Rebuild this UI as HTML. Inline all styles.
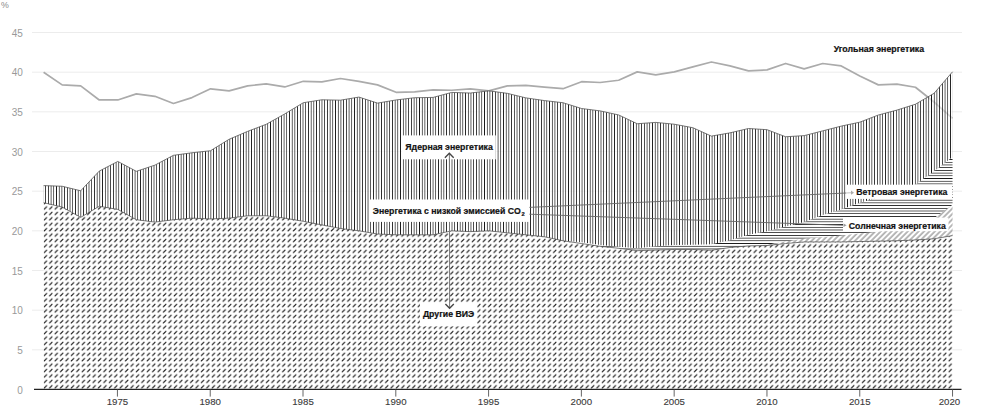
<!DOCTYPE html>
<html><head><meta charset="utf-8">
<style>
html,body{margin:0;padding:0;background:#fff;}
body{width:1004px;height:407px;overflow:hidden;}
svg{display:block;}
text{font-family:"Liberation Sans",sans-serif;}
.g{stroke:#ececec;stroke-width:1;}
.yl{font-size:10px;fill:#999;text-anchor:end;}
.xl{font-size:9.7px;fill:#3a3a3a;stroke:#3a3a3a;stroke-width:0.1px;text-anchor:middle;}
.tk{stroke:#555;stroke-width:0.9;}
.lb{font-size:8.6px;font-weight:bold;fill:#111;stroke:#111;stroke-width:0.2px;}
</style></head><body>
<svg width="1004" height="407" viewBox="0 0 1004 407">
<defs>
<pattern id="pdash" patternUnits="userSpaceOnUse" width="5.418" height="5.418" x="-0.294" y="-0.228">
<line x1="1.1" y1="3.6" x2="3.6" y2="1.1" stroke="#1e1e1e" stroke-width="1.04" stroke-linecap="round"/>
</pattern>
<pattern id="pdiag" patternUnits="userSpaceOnUse" width="3.831" height="3.831" patternTransform="rotate(45)">
<line x1="1" y1="0" x2="1" y2="3.831" stroke="#444" stroke-width="0.75"/>
</pattern>
<filter id="fc" x="0" y="0" width="1004" height="407" filterUnits="userSpaceOnUse"><feComponentTransfer><feFuncA type="linear" slope="1.7" intercept="-0.28"/></feComponentTransfer></filter>
<clipPath id="cD"><path d="M43.6,185.62L62.15,186.26L80.7,190.78L99.25,171.1L117.8,161.43L136.35,171.34L154.9,165.15L173.45,155.32L192,152.78L210.55,150.72L229.1,139.29L247.65,131.36L266.2,124.3L284.75,113.91L303.3,102.72L321.85,99.79L340.4,100.18L358.95,97.09L377.5,103.12L396.05,99.95L414.6,97.72L433.15,97.41L451.7,92.41L470.25,93.04L488.8,90.82L507.35,93.36L525.9,97.88L544.45,100.58L563,102.72L581.55,108.51L600.1,110.89L618.65,114.94L637.2,123.74L655.75,122.4L674.3,124.22L692.85,127.71L711.4,136.12L729.95,132.87L748.5,128.5L767.05,129.69L785.6,136.75L804.15,135.64L822.7,130.88L841.25,126.12L859.8,122.16L878.35,115.02L896.9,110.1L915.45,104.23L934,93.36L952.55,71.78L952.55,157.06L934,171.34L915.45,184.43L896.9,191.57L878.35,197.52L859.8,202.68L841.25,209.42L822.7,214.97L804.15,222.11L785.6,226.48L767.05,231.24L748.5,234.81L729.95,240.36L711.4,244.33L692.85,244.72L674.3,245.12L655.75,246.15L637.2,248.29L618.65,246.71L600.1,245.12L581.55,242.34L563,240.76L544.45,236.79L525.9,234.81L507.35,232.82L488.8,230.84L470.25,231.63L451.7,230.84L433.15,234.81L414.6,234.81L396.05,234.81L377.5,234.01L358.95,230.84L340.4,228.46L321.85,224.89L303.3,221.32L284.75,218.15L266.2,215.77L247.65,215.77L229.1,218.15L210.55,218.94L192,218.15L173.45,219.73L154.9,222.11L136.35,219.73L117.8,209.42L99.25,206.25L80.7,217.35L62.15,207.04L43.6,202.68Z"/></clipPath>
<clipPath id="cC"><path d="M43.6,202.68L62.15,207.04L80.7,217.35L99.25,206.25L117.8,209.42L136.35,219.73L154.9,222.11L173.45,219.73L192,218.15L210.55,218.94L229.1,218.15L247.65,215.77L266.2,215.77L284.75,218.15L303.3,221.32L321.85,224.89L340.4,228.46L358.95,230.84L377.5,234.01L396.05,234.81L414.6,234.81L433.15,234.81L451.7,230.84L470.25,231.63L488.8,230.84L507.35,232.82L525.9,234.81L544.45,236.79L563,240.76L581.55,242.34L600.1,245.12L618.65,246.71L637.2,248.29L655.75,246.15L674.3,245.12L692.85,244.72L711.4,244.33L729.95,240.36L748.5,234.81L767.05,231.24L785.6,226.48L804.15,222.11L822.7,214.97L841.25,209.42L859.8,202.68L878.35,197.52L896.9,191.57L915.45,184.43L934,171.34L952.55,157.06L952.55,204.66L934,218.15L915.45,224.1L896.9,228.06L878.35,231.63L859.8,233.62L841.25,235.6L822.7,237.19L804.15,238.77L785.6,241.55L767.05,244.72L748.5,245.91L729.95,247.5L711.4,250.28L692.85,249.48L674.3,249.48L655.75,250.12L637.2,250.67L618.65,248.29L600.1,246.31L581.55,243.53L563,240.76L544.45,236.79L525.9,234.81L507.35,232.82L488.8,230.84L470.25,231.63L451.7,230.84L433.15,234.81L414.6,234.81L396.05,234.81L377.5,234.01L358.95,230.84L340.4,228.46L321.85,224.89L303.3,221.32L284.75,218.15L266.2,215.77L247.65,215.77L229.1,218.15L210.55,218.94L192,218.15L173.45,219.73L154.9,222.11L136.35,219.73L117.8,209.42L99.25,206.25L80.7,217.35L62.15,207.04L43.6,202.68Z"/></clipPath>
</defs>
<rect width="1004" height="407" fill="#fff"/>
<text x="1" y="8.2" style="font-size:8.8px;fill:#8a8a8a">%</text>
<line x1="32" y1="349.83" x2="962" y2="349.83" class="g"/><line x1="32" y1="310.17" x2="962" y2="310.17" class="g"/><line x1="32" y1="270.5" x2="962" y2="270.5" class="g"/><line x1="32" y1="230.84" x2="962" y2="230.84" class="g"/><line x1="32" y1="191.18" x2="962" y2="191.18" class="g"/><line x1="32" y1="151.51" x2="962" y2="151.51" class="g"/><line x1="32" y1="111.85" x2="962" y2="111.85" class="g"/><line x1="32" y1="72.18" x2="962" y2="72.18" class="g"/><line x1="32" y1="32.51" x2="962" y2="32.51" class="g"/><text x="22.8" y="393.7" class="yl">0</text><text x="22.8" y="354.03" class="yl">5</text><text x="22.8" y="314.37" class="yl">10</text><text x="22.8" y="274.7" class="yl">15</text><text x="22.8" y="235.04" class="yl">20</text><text x="22.8" y="195.38" class="yl">25</text><text x="22.8" y="155.71" class="yl">30</text><text x="22.8" y="116.05" class="yl">35</text><text x="22.8" y="76.38" class="yl">40</text><text x="22.8" y="36.71" class="yl">45</text>
<path d="M43.6,72.18L62.15,84.87L80.7,85.9L99.25,99.95L117.8,99.95L136.35,93.92L154.9,96.3L173.45,103.44L192,97.57L210.55,88.84L229.1,90.9L247.65,85.9L266.2,83.92L284.75,86.94L303.3,81.3L321.85,81.94L340.4,78.53L358.95,81.3L377.5,84.87L396.05,92.33L414.6,91.93L433.15,89.79L451.7,90.27L470.25,88.92L488.8,90.9L507.35,85.9L525.9,85.43L544.45,87.09L563,88.68L581.55,81.7L600.1,82.49L618.65,80.27L637.2,71.86L655.75,74.88L674.3,71.86L692.85,66.86L711.4,62.03L729.95,65.91L748.5,70.91L767.05,69.88L785.6,63.45L804.15,68.93L822.7,63.53L841.25,65.91L859.8,75.91L878.35,84.87L896.9,84.08L915.45,87.25L934,102.01L952.55,118.43" fill="none" stroke="#ababab" stroke-width="1.7" stroke-linejoin="round"/>
<path d="M43.6,185.62L62.15,186.26L80.7,190.78L99.25,171.1L117.8,161.43L136.35,171.34L154.9,165.15L173.45,155.32L192,152.78L210.55,150.72L229.1,139.29L247.65,131.36L266.2,124.3L284.75,113.91L303.3,102.72L321.85,99.79L340.4,100.18L358.95,97.09L377.5,103.12L396.05,99.95L414.6,97.72L433.15,97.41L451.7,92.41L470.25,93.04L488.8,90.82L507.35,93.36L525.9,97.88L544.45,100.58L563,102.72L581.55,108.51L600.1,110.89L618.65,114.94L637.2,123.74L655.75,122.4L674.3,124.22L692.85,127.71L711.4,136.12L729.95,132.87L748.5,128.5L767.05,129.69L785.6,136.75L804.15,135.64L822.7,130.88L841.25,126.12L859.8,122.16L878.35,115.02L896.9,110.1L915.45,104.23L934,93.36L952.55,71.78L952.55,389.5L934,389.5L915.45,389.5L896.9,389.5L878.35,389.5L859.8,389.5L841.25,389.5L822.7,389.5L804.15,389.5L785.6,389.5L767.05,389.5L748.5,389.5L729.95,389.5L711.4,389.5L692.85,389.5L674.3,389.5L655.75,389.5L637.2,389.5L618.65,389.5L600.1,389.5L581.55,389.5L563,389.5L544.45,389.5L525.9,389.5L507.35,389.5L488.8,389.5L470.25,389.5L451.7,389.5L433.15,389.5L414.6,389.5L396.05,389.5L377.5,389.5L358.95,389.5L340.4,389.5L321.85,389.5L303.3,389.5L284.75,389.5L266.2,389.5L247.65,389.5L229.1,389.5L210.55,389.5L192,389.5L173.45,389.5L154.9,389.5L136.35,389.5L117.8,389.5L99.25,389.5L80.7,389.5L62.15,389.5L43.6,389.5Z" fill="#fff" fill-opacity="0.6"/>
<path d="M43.6,202.68L62.15,207.04L80.7,217.35L99.25,206.25L117.8,209.42L136.35,219.73L154.9,222.11L173.45,219.73L192,218.15L210.55,218.94L229.1,218.15L247.65,215.77L266.2,215.77L284.75,218.15L303.3,221.32L321.85,224.89L340.4,228.46L358.95,230.84L377.5,234.01L396.05,234.81L414.6,234.81L433.15,234.81L451.7,230.84L470.25,231.63L488.8,230.84L507.35,232.82L525.9,234.81L544.45,236.79L563,240.76L581.55,243.53L600.1,246.31L618.65,248.29L637.2,250.67L655.75,250.12L674.3,249.48L692.85,249.48L711.4,250.28L729.95,247.5L748.5,245.91L767.05,245.52L785.6,243.53L804.15,241.95L822.7,241.95L841.25,241.95L859.8,241.55L878.35,241.15L896.9,240.76L915.45,239.96L934,238.77L952.55,235.6L952.55,389.5L934,389.5L915.45,389.5L896.9,389.5L878.35,389.5L859.8,389.5L841.25,389.5L822.7,389.5L804.15,389.5L785.6,389.5L767.05,389.5L748.5,389.5L729.95,389.5L711.4,389.5L692.85,389.5L674.3,389.5L655.75,389.5L637.2,389.5L618.65,389.5L600.1,389.5L581.55,389.5L563,389.5L544.45,389.5L525.9,389.5L507.35,389.5L488.8,389.5L470.25,389.5L451.7,389.5L433.15,389.5L414.6,389.5L396.05,389.5L377.5,389.5L358.95,389.5L340.4,389.5L321.85,389.5L303.3,389.5L284.75,389.5L266.2,389.5L247.65,389.5L229.1,389.5L210.55,389.5L192,389.5L173.45,389.5L154.9,389.5L136.35,389.5L117.8,389.5L99.25,389.5L80.7,389.5L62.15,389.5L43.6,389.5Z" fill="url(#pdash)"/>
<path d="M43.6,202.68L62.15,207.04L80.7,217.35L99.25,206.25L117.8,209.42L136.35,219.73L154.9,222.11L173.45,219.73L192,218.15L210.55,218.94L229.1,218.15L247.65,215.77L266.2,215.77L284.75,218.15L303.3,221.32L321.85,224.89L340.4,228.46L358.95,230.84L377.5,234.01L396.05,234.81L414.6,234.81L433.15,234.81L451.7,230.84L470.25,231.63L488.8,230.84L507.35,232.82L525.9,234.81L544.45,236.79L563,240.76L581.55,243.53L600.1,246.31L618.65,248.29L637.2,250.67L655.75,250.12L674.3,249.48L692.85,249.48L711.4,250.28L729.95,247.5L748.5,245.91L767.05,244.72L785.6,241.55L804.15,238.77L822.7,237.19L841.25,235.6L859.8,233.62L878.35,231.63L896.9,228.06L915.45,224.1L934,218.15L952.55,204.66L952.55,235.6L934,238.77L915.45,239.96L896.9,240.76L878.35,241.15L859.8,241.55L841.25,241.95L822.7,241.95L804.15,241.95L785.6,243.53L767.05,245.52L748.5,245.91L729.95,247.5L711.4,250.28L692.85,249.48L674.3,249.48L655.75,250.12L637.2,250.67L618.65,248.29L600.1,246.31L581.55,243.53L563,240.76L544.45,236.79L525.9,234.81L507.35,232.82L488.8,230.84L470.25,231.63L451.7,230.84L433.15,234.81L414.6,234.81L396.05,234.81L377.5,234.01L358.95,230.84L340.4,228.46L321.85,224.89L303.3,221.32L284.75,218.15L266.2,215.77L247.65,215.77L229.1,218.15L210.55,218.94L192,218.15L173.45,219.73L154.9,222.11L136.35,219.73L117.8,209.42L99.25,206.25L80.7,217.35L62.15,207.04L43.6,202.68Z" fill="url(#pdiag)"/>
<path d="M600,137.87H956M600,140.57H956M600,143.28H956M600,145.99H956M600,148.7H956M600,151.41H956M600,154.12H956M600,156.83H956M600,159.54H956M600,162.25H956M600,164.96H956M600,167.66H956M600,170.37H956M600,173.08H956M600,175.79H956M600,178.5H956M600,181.21H956M600,183.92H956M600,186.63H956M600,189.34H956M600,192.05H956M600,194.75H956M600,197.46H956M600,200.17H956M600,202.88H956M600,205.59H956M600,208.3H956M600,211.01H956M600,213.72H956M600,216.43H956M600,219.14H956M600,221.85H956M600,224.55H956M600,227.26H956M600,229.97H956M600,232.68H956M600,235.39H956M600,238.1H956M600,240.81H956M600,243.52H956M600,246.23H956M600,248.94H956M600,251.64H956M600,254.35H956M600,257.06H956M600,259.77H956" stroke="#000" stroke-width="0.7" clip-path="url(#cC)" filter="url(#fc)"/>
<path d="M42.94,60V260M45.65,60V260M48.36,60V260M51.07,60V260M53.78,60V260M56.49,60V260M59.2,60V260M61.91,60V260M64.62,60V260M67.33,60V260M70.03,60V260M72.74,60V260M75.45,60V260M78.16,60V260M80.87,60V260M83.58,60V260M86.29,60V260M89,60V260M91.71,60V260M94.42,60V260M97.12,60V260M99.83,60V260M102.54,60V260M105.25,60V260M107.96,60V260M110.67,60V260M113.38,60V260M116.09,60V260M118.8,60V260M121.51,60V260M124.21,60V260M126.92,60V260M129.63,60V260M132.34,60V260M135.05,60V260M137.76,60V260M140.47,60V260M143.18,60V260M145.89,60V260M148.6,60V260M151.3,60V260M154.01,60V260M156.72,60V260M159.43,60V260M162.14,60V260M164.85,60V260M167.56,60V260M170.27,60V260M172.98,60V260M175.69,60V260M178.39,60V260M181.1,60V260M183.81,60V260M186.52,60V260M189.23,60V260M191.94,60V260M194.65,60V260M197.36,60V260M200.07,60V260M202.78,60V260M205.48,60V260M208.19,60V260M210.9,60V260M213.61,60V260M216.32,60V260M219.03,60V260M221.74,60V260M224.45,60V260M227.16,60V260M229.87,60V260M232.57,60V260M235.28,60V260M237.99,60V260M240.7,60V260M243.41,60V260M246.12,60V260M248.83,60V260M251.54,60V260M254.25,60V260M256.96,60V260M259.66,60V260M262.37,60V260M265.08,60V260M267.79,60V260M270.5,60V260M273.21,60V260M275.92,60V260M278.63,60V260M281.34,60V260M284.05,60V260M286.75,60V260M289.46,60V260M292.17,60V260M294.88,60V260M297.59,60V260M300.3,60V260M303.01,60V260M305.72,60V260M308.43,60V260M311.14,60V260M313.85,60V260M316.55,60V260M319.26,60V260M321.97,60V260M324.68,60V260M327.39,60V260M330.1,60V260M332.81,60V260M335.52,60V260M338.23,60V260M340.94,60V260M343.64,60V260M346.35,60V260M349.06,60V260M351.77,60V260M354.48,60V260M357.19,60V260M359.9,60V260M362.61,60V260M365.32,60V260M368.03,60V260M370.73,60V260M373.44,60V260M376.15,60V260M378.86,60V260M381.57,60V260M384.28,60V260M386.99,60V260M389.7,60V260M392.41,60V260M395.12,60V260M397.82,60V260M400.53,60V260M403.24,60V260M405.95,60V260M408.66,60V260M411.37,60V260M414.08,60V260M416.79,60V260M419.5,60V260M422.21,60V260M424.91,60V260M427.62,60V260M430.33,60V260M433.04,60V260M435.75,60V260M438.46,60V260M441.17,60V260M443.88,60V260M446.59,60V260M449.3,60V260M452,60V260M454.71,60V260M457.42,60V260M460.13,60V260M462.84,60V260M465.55,60V260M468.26,60V260M470.97,60V260M473.68,60V260M476.39,60V260M479.09,60V260M481.8,60V260M484.51,60V260M487.22,60V260M489.93,60V260M492.64,60V260M495.35,60V260M498.06,60V260M500.77,60V260M503.48,60V260M506.18,60V260M508.89,60V260M511.6,60V260M514.31,60V260M517.02,60V260M519.73,60V260M522.44,60V260M525.15,60V260M527.86,60V260M530.56,60V260M533.27,60V260M535.98,60V260M538.69,60V260M541.4,60V260M544.11,60V260M546.82,60V260M549.53,60V260M552.24,60V260M554.95,60V260M557.65,60V260M560.36,60V260M563.07,60V260M565.78,60V260M568.49,60V260M571.2,60V260M573.91,60V260M576.62,60V260M579.33,60V260M582.04,60V260M584.74,60V260M587.45,60V260M590.16,60V260M592.87,60V260M595.58,60V260M598.29,60V260M601,60V260M603.71,60V260M606.42,60V260M609.13,60V260M611.83,60V260M614.54,60V260M617.25,60V260M619.96,60V260M622.67,60V260M625.38,60V260M628.09,60V260M630.8,60V260M633.51,60V260M636.22,60V260M638.92,60V260M641.63,60V260M644.34,60V260M647.05,60V260M649.76,60V260M652.47,60V260M655.18,60V260M657.89,60V260M660.6,60V260M663.31,60V260M666.01,60V260M668.72,60V260M671.43,60V260M674.14,60V260M676.85,60V260M679.56,60V260M682.27,60V260M684.98,60V260M687.69,60V260M690.4,60V260M693.1,60V260M695.81,60V260M698.52,60V260M701.23,60V260M703.94,60V260M706.65,60V260M709.36,60V260M712.07,60V260M714.78,60V260M717.49,60V260M720.19,60V260M722.9,60V260M725.61,60V260M728.32,60V260M731.03,60V260M733.74,60V260M736.45,60V260M739.16,60V260M741.87,60V260M744.58,60V260M747.28,60V260M749.99,60V260M752.7,60V260M755.41,60V260M758.12,60V260M760.83,60V260M763.54,60V260M766.25,60V260M768.96,60V260M771.67,60V260M774.37,60V260M777.08,60V260M779.79,60V260M782.5,60V260M785.21,60V260M787.92,60V260M790.63,60V260M793.34,60V260M796.05,60V260M798.76,60V260M801.46,60V260M804.17,60V260M806.88,60V260M809.59,60V260M812.3,60V260M815.01,60V260M817.72,60V260M820.43,60V260M823.14,60V260M825.85,60V260M828.55,60V260M831.26,60V260M833.97,60V260M836.68,60V260M839.39,60V260M842.1,60V260M844.81,60V260M847.52,60V260M850.23,60V260M852.94,60V260M855.64,60V260M858.35,60V260M861.06,60V260M863.77,60V260M866.48,60V260M869.19,60V260M871.9,60V260M874.61,60V260M877.32,60V260M880.03,60V260M882.73,60V260M885.44,60V260M888.15,60V260M890.86,60V260M893.57,60V260M896.28,60V260M898.99,60V260M901.7,60V260M904.41,60V260M907.12,60V260M909.82,60V260M912.53,60V260M915.24,60V260M917.95,60V260M920.66,60V260M923.37,60V260M926.08,60V260M928.79,60V260M931.5,60V260M934.21,60V260M936.91,60V260M939.62,60V260M942.33,60V260M945.04,60V260M947.75,60V260M950.46,60V260M953.17,60V260M955.88,60V260" stroke="#000" stroke-width="0.7" clip-path="url(#cD)" filter="url(#fc)"/>
<path d="M43.6,185.62L62.15,186.26L80.7,190.78L99.25,171.1L117.8,161.43L136.35,171.34L154.9,165.15L173.45,155.32L192,152.78L210.55,150.72L229.1,139.29L247.65,131.36L266.2,124.3L284.75,113.91L303.3,102.72L321.85,99.79L340.4,100.18L358.95,97.09L377.5,103.12L396.05,99.95L414.6,97.72L433.15,97.41L451.7,92.41L470.25,93.04L488.8,90.82L507.35,93.36L525.9,97.88L544.45,100.58L563,102.72L581.55,108.51L600.1,110.89L618.65,114.94L637.2,123.74L655.75,122.4L674.3,124.22L692.85,127.71L711.4,136.12L729.95,132.87L748.5,128.5L767.05,129.69L785.6,136.75L804.15,135.64L822.7,130.88L841.25,126.12L859.8,122.16L878.35,115.02L896.9,110.1L915.45,104.23L934,93.36L952.55,71.78" fill="none" stroke="#555" stroke-width="0.8"/>
<path d="M43.6,202.68L62.15,207.04L80.7,217.35L99.25,206.25L117.8,209.42L136.35,219.73L154.9,222.11L173.45,219.73L192,218.15L210.55,218.94L229.1,218.15L247.65,215.77L266.2,215.77L284.75,218.15L303.3,221.32L321.85,224.89L340.4,228.46L358.95,230.84L377.5,234.01L396.05,234.81L414.6,234.81L433.15,234.81L451.7,230.84L470.25,231.63L488.8,230.84L507.35,232.82L525.9,234.81L544.45,236.79L563,240.76L581.55,243.53L600.1,246.31L618.65,248.29L637.2,250.67L655.75,250.12L674.3,249.48L692.85,249.48L711.4,250.28L729.95,247.5L748.5,245.91L767.05,245.52L785.6,243.53L804.15,241.95L822.7,241.95L841.25,241.95L859.8,241.55L878.35,241.15L896.9,240.76L915.45,239.96L934,238.77L952.55,235.6" fill="none" stroke="#444" stroke-width="0.7"/>
<line x1="449.4" y1="153.5" x2="449.6" y2="308" stroke="#7a7a7a" stroke-width="1"/>
<line x1="34" y1="389.3" x2="961.5" y2="389.3" stroke="#222" stroke-width="1.3"/>
<line x1="117.43" y1="389.5" x2="117.43" y2="396.6" class="tk"/><text x="117.43" y="405.3" class="xl">1975</text><line x1="210.22" y1="389.5" x2="210.22" y2="396.6" class="tk"/><text x="210.22" y="405.3" class="xl">1980</text><line x1="303.01" y1="389.5" x2="303.01" y2="396.6" class="tk"/><text x="303.01" y="405.3" class="xl">1985</text><line x1="395.8" y1="389.5" x2="395.8" y2="396.6" class="tk"/><text x="395.8" y="405.3" class="xl">1990</text><line x1="488.59" y1="389.5" x2="488.59" y2="396.6" class="tk"/><text x="488.59" y="405.3" class="xl">1995</text><line x1="581.38" y1="389.5" x2="581.38" y2="396.6" class="tk"/><text x="581.38" y="405.3" class="xl">2000</text><line x1="674.17" y1="389.5" x2="674.17" y2="396.6" class="tk"/><text x="674.17" y="405.3" class="xl">2005</text><line x1="766.96" y1="389.5" x2="766.96" y2="396.6" class="tk"/><text x="766.96" y="405.3" class="xl">2010</text><line x1="859.75" y1="389.5" x2="859.75" y2="396.6" class="tk"/><text x="859.75" y="405.3" class="xl">2015</text><line x1="952.54" y1="389.5" x2="952.54" y2="396.6" class="tk"/><text x="960.2" y="405.3" class="xl" style="text-anchor:end">2020</text>
<text x="833.7" y="52.3" class="lb" textLength="90.4" lengthAdjust="spacingAndGlyphs">Угольная энергетика</text>


<rect x="402" y="135.4" width="93.8" height="23.9" fill="#fff"/>
<text x="405.3" y="150.3" class="lb" textLength="87.5" lengthAdjust="spacingAndGlyphs">Ядерная энергетика</text>
<line x1="449.4" y1="154" x2="449.4" y2="160" stroke="#7a7a7a" stroke-width="1"/>
<path d="M444.9,157.7 L449.3,153.3 L453.7,157.7" fill="none" stroke="#444" stroke-width="1.4"/>

<line x1="529" y1="207.4" x2="846" y2="193" stroke="#666" stroke-width="0.9"/>
<line x1="529" y1="214.2" x2="843" y2="225.3" stroke="#666" stroke-width="0.9"/>

<rect x="369" y="199.5" width="160.4" height="22.4" fill="#fff"/>
<text x="372.8" y="213.7" class="lb" textLength="148" lengthAdjust="spacingAndGlyphs">Энергетика с низкой эмиссией CO</text>
<text x="521.4" y="216.2" class="lb" style="font-size:5.8px">2</text>

<rect x="419.9" y="302.5" width="57.3" height="23.9" fill="#fff"/>
<text x="422.9" y="316.9" class="lb" textLength="51.3" lengthAdjust="spacingAndGlyphs">Другие ВИЭ</text>
<line x1="449.6" y1="302" x2="449.6" y2="308" stroke="#7a7a7a" stroke-width="1"/>
<path d="M445.4,304.1 L449.6,308.3 L453.8,304.1" fill="none" stroke="#444" stroke-width="1.4"/>

<rect x="846" y="184.7" width="106" height="14.2" fill="#fff"/>
<line x1="846" y1="193" x2="852" y2="192.7" stroke="#bbb" stroke-width="0.9"/>
<text x="856.3" y="195" class="lb" textLength="91.1" lengthAdjust="spacingAndGlyphs">Ветровая энергетика</text>
<path d="M851,190.6 L854,192.7 L851,194.8Z" fill="#aaa"/>

<rect x="843" y="217.6" width="105.5" height="13.6" fill="#fff"/>
<text x="848.8" y="228.5" class="lb" textLength="97" lengthAdjust="spacingAndGlyphs">Солнечная энергетика</text>
<path d="M843.5,223.6 L846.6,225.3 L843.5,227Z" fill="#999"/>
</svg>
</body></html>
